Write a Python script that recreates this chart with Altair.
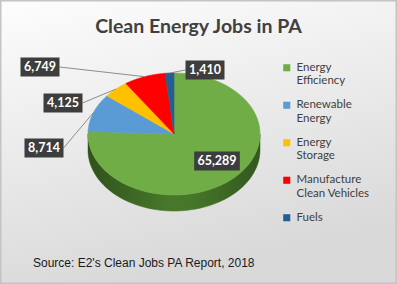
import altair as alt
import pandas as pd

# ---------------- data ----------------
categories = ["Energy Efficiency", "Renewable Energy", "Energy Storage",
              "Manufacture Clean Vehicles", "Fuels"]
jobs = [65289, 8714, 4125, 6749, 1410]
slice_order = [0, 1, 2, 3, 4]
title_text = "Clean Energy Jobs in PA"
source_text = "Source: E2's Clean Jobs PA Report, 2018"

# ---------------- styles ----------------
top_colors = ["#70ad47", "#5b9bd5", "#ffc000", "#ff0000", "#255e91"]
side_colors = ["#4a7d2c", "#3f76a8", "#c79500", "#b80000", "#1a4369"]

# ---------------- layout ----------------
W, H = 397, 284
CX, CY, RX, RY, DEPTH = 174, 134, 86, 61, 16
N = 72
label_x = [217, 44, 63, 40, 205]
label_y = [161, 148, 103, 67, 70]
label_inside = [1, 0, 0, 0, 0]
label_attach = ["none", "right", "right", "right", "left"]

df = pd.DataFrame({
    "category": categories, "jobs": jobs, "order": slice_order,
    "side_color": side_colors, "lx": label_x, "ly": label_y,
    "inside": label_inside, "attach": label_attach,
})

xs = alt.Scale(domain=[0, W], nice=False, zero=False)
ys = alt.Scale(domain=[0, H], nice=False, zero=False, reverse=True)


def X(f):
    return alt.X(f"{f}:Q", scale=xs, axis=None)


def Y(f):
    return alt.Y(f"{f}:Q", scale=ys, axis=None)


color_scale = alt.Scale(domain=categories, range=top_colors)

geo = (alt.Chart(df)
       .transform_joinaggregate(total="sum(jobs)")
       .transform_window(cum="sum(jobs)", sort=[alt.SortField("order")])
       .transform_calculate(
           t0="(datum.cum - datum.jobs) / datum.total * 2 * PI",
           t1="datum.cum / datum.total * 2 * PI",
           lab="format(datum.jobs, ',')",
       )
       .transform_calculate(bw="6.6 * length(datum.lab) + 6"))

# background panel
bg = alt.Chart(pd.DataFrame({"k": [0]})).mark_rect(
    fill=alt.Gradient(gradient="linear", x1=0, y1=0, x2=0.3, y2=1,
                      stops=[alt.GradientStop(color="#fdfdfd", offset=0),
                             alt.GradientStop(color="#d9d9d9", offset=1)]),
    stroke="#c4c4c4", strokeWidth=1.5,
).encode(x=alt.value(0.75), x2=alt.value(W - 0.75),
         y=alt.value(0.75), y2=alt.value(H - 0.75))

# 3D side wall (front half of each slice)
side_geo = (geo
            .transform_calculate(u0="max(datum.t0, PI / 2)", u1="min(datum.t1, 3 * PI / 2)")
            .transform_filter("datum.u1 > datum.u0")
            .transform_calculate(idx=f"sequence(0, {2 * N + 2})")
            .transform_flatten(["idx"])
            .transform_calculate(
                ang=f"datum.idx <= {N} ? datum.u0 + (datum.u1 - datum.u0) * datum.idx / {N} : "
                    f"datum.u1 - (datum.u1 - datum.u0) * (datum.idx - {N + 1}) / {N}",
                px=f"{CX} + {RX} * sin(datum.ang)",
                py=f"{CY} - {RY} * cos(datum.ang) + (datum.idx > {N} ? {DEPTH} : 0)",
            ))

side = (side_geo
        .mark_line(interpolate="linear-closed", strokeWidth=0.6)
        .encode(x=X("px"), y=Y("py"), order="idx:Q", detail="category:N",
                fill=alt.Fill("side_color:N", scale=None),
                stroke=alt.Stroke("side_color:N", scale=None)))

side_shade = (side_geo
              .mark_line(interpolate="linear-closed", strokeWidth=0,
                         fill=alt.Gradient(gradient="linear", x1=0, y1=0, x2=1, y2=0,
                                           stops=[alt.GradientStop(color="rgba(0,0,0,0.35)", offset=0),
                                                  alt.GradientStop(color="rgba(0,0,0,0.05)", offset=0.45),
                                                  alt.GradientStop(color="rgba(0,0,0,0.05)", offset=0.6),
                                                  alt.GradientStop(color="rgba(0,0,0,0.3)", offset=1)]))
              .encode(x=X("px"), y=Y("py"), order="idx:Q", detail="category:N"))

legend = alt.Legend(
    title=None, orient="none", legendX=281, legendY=62, padding=0,
    symbolType="square", symbolSize=50, symbolStrokeWidth=0,
    labelFont="Lato", labelFontSize=11.5, labelColor="#404040",
    labelLimit=200, rowPadding=11.5, labelOffset=4,
    labelExpr="datum.label == 'Manufacture Clean Vehicles' ? ['Manufacture', 'Clean Vehicles'] : split(datum.label, ' ')",
)

top = (geo
       .transform_calculate(idx=f"sequence(0, {N + 2})")
       .transform_flatten(["idx"])
       .transform_calculate(
           ang=f"datum.t0 + (datum.t1 - datum.t0) * (datum.idx - 1) / {N}",
           px=f"datum.idx == 0 ? {CX} : {CX} + {RX} * sin(datum.ang)",
           py=f"datum.idx == 0 ? {CY} : {CY} - {RY} * cos(datum.ang)",
       )
       .mark_line(interpolate="linear-closed", strokeWidth=0.6)
       .encode(x=X("px"), y=Y("py"), order="idx:Q", detail="category:N",
               fill=alt.Fill("category:N", scale=color_scale, legend=legend, sort=categories),
               stroke=alt.Stroke("category:N", scale=color_scale, legend=None, sort=categories)))

leaders = (geo
           .transform_filter("datum.inside == 0")
           .transform_calculate(
               ex=f"{CX} + {RX} * sin((datum.t0 + datum.t1) / 2)",
               ey=f"{CY} - {RY} * cos((datum.t0 + datum.t1) / 2)",
               ax="datum.attach == 'left' ? datum.lx - datum.bw / 2 : datum.lx + datum.bw / 2",
           )
           .mark_rule(color="#8c8c8c", strokeWidth=1)
           .encode(x=X("ex"), y=Y("ey"), x2="ax:Q", y2="ly:Q"))

boxes = (geo
         .transform_calculate(
             bx0="datum.lx - datum.bw / 2", bx1="datum.lx + datum.bw / 2",
             by0="datum.ly - 9.5", by1="datum.ly + 9.5")
         .mark_rect(color="#3d3d3d")
         .encode(x=X("bx0"), x2="bx1:Q", y=Y("by0"), y2="by1:Q"))

texts = (geo
         .mark_text(font="Lato", fontSize=12.5, fontWeight="bold", color="white",
                    align="center", baseline="middle")
         .encode(x=X("lx"), y=Y("ly"), text="lab:N"))

one = pd.DataFrame({"k": [0]})
title = alt.Chart(one).mark_text(
    text=title_text, font="Lato", fontSize=19.5, fontWeight="bold", color="#404040",
    align="center", baseline="middle",
).encode(x=alt.value(198.5), y=alt.value(27))

source = alt.Chart(one).mark_text(
    text=source_text, font="Liberation Sans", fontSize=12, color="#1a1a1a",
    align="left", baseline="middle",
).encode(x=alt.value(33), y=alt.value(263))

chart = (alt.layer(bg, side, side_shade, top, leaders, boxes, texts, title, source)
         .resolve_scale(fill="independent", stroke="independent")
         .properties(width=W, height=H, padding=0,
                     autosize=alt.AutoSizeParams(type="none"), background="#ffffff")
         .configure_view(strokeWidth=0))

chart.save("out.html", embed_options={"renderer": "svg", "actions": False})
